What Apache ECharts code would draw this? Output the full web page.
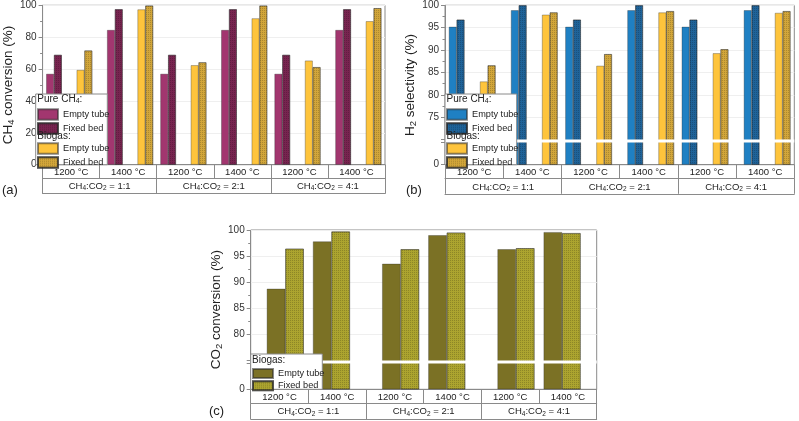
<!DOCTYPE html>
<html><head><meta charset="utf-8">
<script src="https://cdn.jsdelivr.net/npm/echarts@6/dist/echarts.min.js"></script>
<style>html,body{margin:0;padding:0;background:#fff}#c{width:799px;height:421px}</style>
</head><body><div id="c"></div>
<script>
// ---------------- data ----------------
// group order: 1:1 1200, 1:1 1400, 2:1 1200, 2:1 1400, 4:1 1200, 4:1 1400
const tempLabels = ['1200 °C', '1400 °C', '1200 °C', '1400 °C', '1200 °C', '1400 °C'];
const ratioLabels = ['CH{sub|4}:CO{sub|2} = 1:1', 'CH{sub|4}:CO{sub|2} = 2:1', 'CH{sub|4}:CO{sub|2} = 4:1'];
const yTicksA = [0, 20, 40, 60, 80, 100];
const yTicksB = [0, 75, 80, 85, 90, 95, 100];
const yTicksC = [0, 80, 85, 90, 95, 100];
// (a) CH4 conversion (%)
const ch4PureEmpty = [57.0, 84.5, 57.0, 84.5, 57.0, 84.5];
const ch4PureFixed = [68.9, 97.5, 68.9, 97.5, 68.9, 97.5];
const ch4BioEmpty  = [59.4, 97.4, 62.4, 91.8, 65.3, 90.0];
const ch4BioFixed  = [71.6, 99.8, 64.2, 99.8, 61.2, 98.2];
// (b) H2 selectivity (%)
const h2PureEmpty = [95.2, 98.9, 95.2, 98.9, 95.2, 98.9];
const h2PureFixed = [96.8, 100.0, 96.8, 100.0, 96.8, 100.0];
const h2BioEmpty  = [83.0, 97.9, 86.5, 98.4, 89.3, 98.3];
const h2BioFixed  = [86.6, 98.4, 89.1, 98.7, 90.2, 98.7];
// (c) CO2 conversion (%)
const co2BioEmpty = [88.7, 97.8, 93.5, 99.0, 96.3, 99.6];
const co2BioFixed = [96.4, 99.7, 96.3, 99.5, 96.5, 99.4];

// ---------------- layout helpers ----------------
const FONT = 'Liberation Sans';
const LINE = '#8a8a8a';
const TXT = '#222';
const slots = n => Array.from({length: n}, (_, i) => String(i));
function place(vals, n, slotOf) {
  const arr = new Array(n).fill('-');
  vals.forEach((v, g) => { arr[slotOf(g)] = v; });
  return arr;
}
const pureSlot = g => Math.floor(g / 2) * 15 + (g % 2 ? 9 : 1);
const bioSlot  = g => Math.floor(g / 2) * 15 + (g % 2 ? 13 : 5);
const cSlot    = g => Math.floor(g / 2) * 5 + (g % 2 ? 3 : 1);

const decal = {symbol: 'rect', symbolSize: 1, dashArrayX: [1, 1], dashArrayY: [1, 1], color: 'rgba(0,0,0,0.18)', rotation: 0};
function bar(name, data, xi, yi, color, fixed, stack, bw) {
  return {
    type: 'bar', name, data, xAxisIndex: xi, yAxisIndex: yi, stack, barWidth: bw, barGap: '0%',
    itemStyle: {color, borderColor: 'rgba(40,40,40,0.55)', borderWidth: 0.6, decal: fixed ? decal : undefined},
    emphasis: {disabled: true}, animation: false
  };
}
const subRich = {sub: {fontSize: 6.5, padding: [4, 0, 0, 0], fontFamily: FONT, color: TXT}};
function tableAxes(g, nSlots, r1, r2) {
  return [
    {gridIndex: g, type: 'category', data: slots(nSlots), axisLine: {show: false}, axisTick: {show: false}, axisLabel: {show: false}, splitLine: {show: false}},
    {gridIndex: g, type: 'category', position: 'bottom', offset: 0, data: tempLabels,
     axisLine: {show: true, lineStyle: {color: LINE, width: 1}},
     axisTick: {show: true, interval: 0, length: r1, lineStyle: {color: LINE, width: 1}},
     axisLabel: {interval: 0, margin: 3, fontSize: 9.5, color: TXT, fontFamily: FONT}},
    {gridIndex: g, type: 'category', position: 'bottom', offset: r1, data: ratioLabels,
     axisLine: {show: true, lineStyle: {color: LINE, width: 1}},
     axisTick: {show: true, interval: 0, length: r2, lineStyle: {color: LINE, width: 1}},
     axisLabel: {interval: 0, margin: 3, fontSize: 9.5, color: TXT, fontFamily: FONT, rich: subRich}},
    {gridIndex: g, type: 'category', position: 'bottom', offset: r1 + r2, data: [''],
     axisLine: {show: true, lineStyle: {color: LINE, width: 1}}, axisTick: {show: false}, axisLabel: {show: false}}
  ];
}
function yAxis(g, name, interval, keep, brk, nameGap) {
  const ax = {
    gridIndex: g, type: 'value', min: 0, max: 100, interval,
    name, nameLocation: 'middle', nameGap,
    nameTextStyle: {fontSize: 13.5, color: TXT, fontFamily: FONT, rich: {sub: {fontSize: 9.5, padding: [6, 0, 0, 0], fontFamily: FONT, color: TXT}}},
    axisLine: {show: true, lineStyle: {color: LINE, width: 1}},
    axisTick: {show: true, length: 4, inside: false, lineStyle: {color: LINE}},
    minorTick: {show: true, splitNumber: 2, length: 2.5, lineStyle: {color: LINE}},
    axisLabel: {fontSize: 10, color: '#333', margin: 6, fontFamily: FONT,
      formatter: v => keep.indexOf(Math.round(v * 100) / 100) >= 0 ? String(v) : ''},
    splitLine: {show: true, lineStyle: {color: '#efefef', width: 1}}
  };
  if (brk) {
    ax.breaks = [brk];
    ax.breakArea = {show: true, expandOnClick: false, zigzagAmplitude: 0, zigzagZ: 100,
      itemStyle: {color: '#fff', borderColor: '#fff', borderWidth: 0, opacity: 1}};
  }
  return ax;
}

const labelMap = {
  aPE: 'Empty tube', aPF: 'Fixed bed', aBE: 'Empty tube', aBF: 'Fixed bed',
  bPE: 'Empty tube', bPF: 'Fixed bed', bBE: 'Empty tube', bBF: 'Fixed bed',
  cBE: 'Empty tube', cBF: 'Fixed bed'
};
function legend(names, left, top, ih, gap) {
  return {data: names, left, top, orient: 'vertical', icon: 'rect', itemWidth: 20, itemHeight: ih, itemGap: gap,
    padding: 0, selectedMode: false, z: 200, formatter: n => labelMap[n],
    textStyle: {fontSize: 9.2, color: TXT, fontFamily: FONT}};
}
function txt(x, y, text, size) {
  return {type: 'text', x, y, z: 210, style: {text, fontSize: size, fill: TXT, fontFamily: FONT, verticalAlign: 'middle',
    rich: {sub: {fontSize: size * 0.7, padding: [4, 0, 0, 0], fontFamily: FONT, fill: TXT}}}};
}
function box(x, y, w, h) {
  return {type: 'rect', z: 190, shape: {x, y, width: w, height: h}, style: {fill: '#fff', stroke: LINE, lineWidth: 1}};
}

const C = {
  pinkE: '#a2366f', pinkF: '#782450',
  yelE: '#fec43c', yelF: '#d2a63a',
  bluE: '#1f80c3', bluF: '#1f6399',
  oliE: '#7b7125', oliF: '#aca42f'
};

const option = {
  animation: false,
  textStyle: {fontFamily: FONT},
  grid: [
    {left: 35.7, top: 5.3, width: 349.3, height: 159.4, show: true, borderColor: LINE, borderWidth: 1, backgroundColor: 'transparent'},
    {left: 445, top: 5.3, width: 349.3, height: 159.4, show: true, borderColor: LINE, borderWidth: 1, backgroundColor: 'transparent'},
    {left: 250.7, top: 230, width: 346, height: 159.3, show: true, borderColor: LINE, borderWidth: 1, backgroundColor: 'transparent'}
  ],
  xAxis: [].concat(tableAxes(0, 45, 13.3, 15.7), tableAxes(1, 45, 13.8, 15.3), tableAxes(2, 15, 14, 15.7)),
  yAxis: [
    yAxis(0, 'CH{sub|4} conversion (%)', 20, yTicksA, null, 23),
    yAxis(1, 'H{sub|2} selectivity (%)', 5, yTicksB, {start: 5, end: 70, gap: '1.6%'}, 21),
    yAxis(2, 'CO{sub|2} conversion (%)', 5, yTicksC, {start: 5, end: 75, gap: '2.1%'}, 24)
  ],
  legend: [
    legend(['aPE', 'aPF'], 37, 108.2, 10.5, 1.5),
    legend(['aBE', 'aBF'], 37, 142.2, 10.5, 1.5),
    legend(['bPE', 'bPF'], 446, 108.2, 10.5, 1.5),
    legend(['bBE', 'bBF'], 446, 142.2, 10.5, 1.5),
    legend(['cBE', 'cBF'], 252, 368, 9, 1.3)
  ],
  graphic: {elements: [
    box(35.7, 94, 71.6, 70.7), box(445, 94, 71.7, 70.7), box(250.7, 354, 71.6, 35.3),
    txt(37.3, 99.5, 'Pure CH{sub|4}:', 10), txt(37.3, 136.7, 'Biogas:', 10),
    txt(446.5, 99.5, 'Pure CH{sub|4}:', 10), txt(446.5, 136.7, 'Biogas:', 10),
    txt(252, 360.7, 'Biogas:', 10),
    txt(2, 190, '(a)', 13), txt(406, 190, '(b)', 13), txt(209, 411.5, '(c)', 13)
  ]},
  series: [
    bar('aPE', place(ch4PureEmpty, 45, pureSlot), 0, 0, C.pinkE, false, 'aE', 7.8),
    bar('aPF', place(ch4PureFixed, 45, pureSlot), 0, 0, C.pinkF, true, 'aF', 7.8),
    bar('aBE', place(ch4BioEmpty, 45, bioSlot), 0, 0, C.yelE, false, 'aE', 7.8),
    bar('aBF', place(ch4BioFixed, 45, bioSlot), 0, 0, C.yelF, true, 'aF', 7.8),
    bar('bPE', place(h2PureEmpty, 45, pureSlot), 4, 1, C.bluE, false, 'bE', 7.8),
    bar('bPF', place(h2PureFixed, 45, pureSlot), 4, 1, C.bluF, true, 'bF', 7.8),
    bar('bBE', place(h2BioEmpty, 45, bioSlot), 4, 1, C.yelE, false, 'bE', 7.8),
    bar('bBF', place(h2BioFixed, 45, bioSlot), 4, 1, C.yelF, true, 'bF', 7.8),
    bar('cBE', place(co2BioEmpty, 15, cSlot), 8, 2, C.oliE, false, 'cE', 18.5),
    bar('cBF', place(co2BioFixed, 15, cSlot), 8, 2, C.oliF, true, 'cF', 18.5)
  ]
};
const chart = echarts.init(document.getElementById('c'), null, {renderer: 'canvas'});
chart.setOption(option);
</script></body></html>
